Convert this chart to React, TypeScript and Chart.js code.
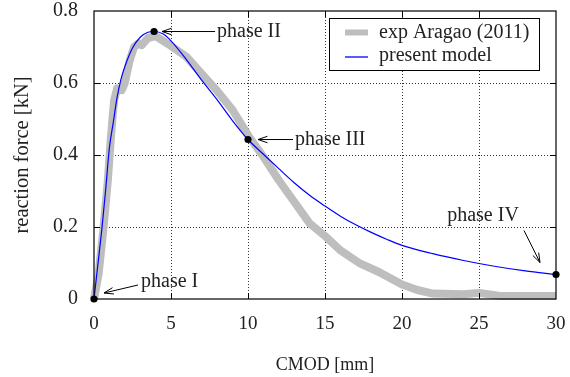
import React, { useEffect, useRef } from 'react';
import { Chart, registerables } from 'chart.js';

Chart.register(...registerables);

// Experimental curve (CMOD in mm, force in kN)
const expCmod = [0, 0.3, 0.6, 0.9, 1.1, 1.3, 1.5, 1.8, 2.0, 2.3, 2.6, 2.9, 3.1, 3.5, 4, 5, 6, 7, 8, 9, 10, 11, 12, 13, 14, 15, 16, 17.3, 18.5, 20, 21, 22, 24, 25, 26.5, 30];
const expForce = [0, 0.07, 0.19, 0.33, 0.45, 0.55, 0.585, 0.58, 0.6, 0.66, 0.7, 0.71, 0.705, 0.725, 0.73, 0.703, 0.673, 0.625, 0.578, 0.525, 0.455, 0.395, 0.33, 0.27, 0.21, 0.175, 0.135, 0.098, 0.075, 0.04, 0.025, 0.015, 0.013, 0.017, 0.008, 0.008];

// Model curve
const modelCmod = [0, 0.25, 0.5, 0.75, 1, 1.25, 1.5, 1.75, 2, 2.5, 3, 3.5, 3.9, 4.5, 5, 6, 7, 8, 9, 10, 11, 12, 13, 14, 15, 16, 17, 18, 19, 20, 22, 24, 26, 28, 30];
const modelForce = [0, 0.095, 0.19, 0.3, 0.42, 0.49, 0.56, 0.61, 0.645, 0.697, 0.727, 0.741, 0.743, 0.736, 0.717, 0.665, 0.607, 0.553, 0.495, 0.443, 0.402, 0.362, 0.323, 0.288, 0.258, 0.23, 0.206, 0.185, 0.166, 0.149, 0.126, 0.107, 0.091, 0.078, 0.068];

// Marked phases on the model curve
const phaseNames = ['phase I', 'phase II', 'phase III', 'phase IV'];
const phaseCmod = [0, 3.9, 10, 30];
const phaseForce = [0, 0.743, 0.443, 0.068];

const xTicks = [0, 5, 10, 15, 20, 25, 30];
const yTicks = [0, 0.2, 0.4, 0.6, 0.8];
const seriesLabels = ['exp Aragao (2011)', 'present model'];

const FONT = '"Liberation Serif", "Times New Roman", Times, serif';
const TEXT = '#222';
const GRAY = '#bebebe';
const BLUE = '#0000ff';

// Arrow placement for each phase label, in pixels relative to its point
const phaseArrows = [
  { tip: [10, -6], tail: [44, -14], text: [47, -17], align: 'left' },
  { tip: [8, 0], tail: [61, 0], text: [63, 0], align: 'left' },
  { tip: [10, 0], tail: [45, 0], text: [47, 0], align: 'left' },
  { tip: [-16, -12], tail: [-32, -44], text: [-73, -59], align: 'center' },
];

function drawArrow(ctx: CanvasRenderingContext2D, x0: number, y0: number, x1: number, y1: number) {
  const ang = Math.atan2(y1 - y0, x1 - x0);
  const len = 10;
  const spread = 0.33;
  ctx.beginPath();
  ctx.moveTo(x0, y0);
  ctx.lineTo(x1, y1);
  ctx.moveTo(x1 - len * Math.cos(ang - spread), y1 - len * Math.sin(ang - spread));
  ctx.lineTo(x1, y1);
  ctx.lineTo(x1 - len * Math.cos(ang + spread), y1 - len * Math.sin(ang + spread));
  ctx.stroke();
}

const noScalePadding = (s: any) => {
  s.paddingTop = 0;
  s.paddingBottom = 0;
  s.paddingLeft = 0;
  s.paddingRight = 0;
};

const decorPlugin = {
  id: 'decor',
  beforeDatasetsDraw(chart: any) {
    const { ctx, chartArea: a, scales } = chart;
    const x = scales.x;
    const y = scales.y;
    ctx.save();
    ctx.strokeStyle = '#333';
    ctx.lineWidth = 1;
    ctx.setLineDash([1, 2]);
    xTicks.slice(1, -1).forEach((v) => {
      const px = Math.round(x.getPixelForValue(v)) + 0.5;
      ctx.beginPath();
      ctx.moveTo(px, a.top);
      ctx.lineTo(px, a.bottom);
      ctx.stroke();
    });
    yTicks.slice(1, -1).forEach((v) => {
      const py = Math.round(y.getPixelForValue(v)) + 0.5;
      ctx.beginPath();
      ctx.moveTo(a.left, py);
      ctx.lineTo(a.right, py);
      ctx.stroke();
    });
    ctx.restore();
  },
  afterDatasetsDraw(chart: any) {
    const { ctx, chartArea: a, scales } = chart;
    const x = scales.x;
    const y = scales.y;
    const tl = 6;
    ctx.save();
    ctx.strokeStyle = '#000';
    ctx.lineWidth = 1.2;
    ctx.strokeRect(a.left, a.top, a.right - a.left, a.bottom - a.top);
    ctx.lineWidth = 1;
    ctx.beginPath();
    xTicks.slice(1, -1).forEach((v) => {
      const px = Math.round(x.getPixelForValue(v)) + 0.5;
      ctx.moveTo(px, a.bottom);
      ctx.lineTo(px, a.bottom - tl);
      ctx.moveTo(px, a.top);
      ctx.lineTo(px, a.top + tl);
    });
    yTicks.slice(1, -1).forEach((v) => {
      const py = Math.round(y.getPixelForValue(v)) + 0.5;
      ctx.moveTo(a.left, py);
      ctx.lineTo(a.left + tl, py);
      ctx.moveTo(a.right, py);
      ctx.lineTo(a.right - tl, py);
    });
    ctx.stroke();
    ctx.restore();
  },
  afterDraw(chart: any) {
    const { ctx, chartArea: a, scales } = chart;
    const x = scales.x;
    const y = scales.y;
    ctx.save();

    // phase labels with arrows
    ctx.strokeStyle = '#000';
    ctx.lineWidth = 1;
    ctx.fillStyle = TEXT;
    ctx.font = `20px ${FONT}`;
    ctx.textBaseline = 'middle';
    phaseNames.forEach((name, i) => {
      const px = x.getPixelForValue(phaseCmod[i]);
      const py = y.getPixelForValue(phaseForce[i]);
      const s = phaseArrows[i];
      drawArrow(ctx, px + s.tail[0], py + s.tail[1], px + s.tip[0], py + s.tip[1]);
      ctx.textAlign = s.align as CanvasTextAlign;
      ctx.fillText(name, px + s.text[0], py + s.text[1]);
    });

    // key box
    const bw = 210;
    const bh = 52;
    const bx = a.right - 17 - bw;
    const by = a.top + 7;
    ctx.fillStyle = '#fff';
    ctx.fillRect(bx, by, bw, bh);
    ctx.strokeStyle = '#000';
    ctx.lineWidth = 1;
    ctx.strokeRect(bx + 0.5, by + 0.5, bw, bh);
    const sx0 = bx + 16;
    const sx1 = bx + 39;
    const row1 = by + 14.5;
    const row2 = by + 39;
    ctx.fillStyle = GRAY;
    ctx.fillRect(sx0, row1 - 3, sx1 - sx0, 6);
    ctx.strokeStyle = BLUE;
    ctx.lineWidth = 1.3;
    ctx.beginPath();
    ctx.moveTo(sx0, row2);
    ctx.lineTo(sx1, row2);
    ctx.stroke();
    ctx.fillStyle = TEXT;
    ctx.textAlign = 'left';
    ctx.fillText(seriesLabels[0], bx + 50, row1);
    ctx.fillText(seriesLabels[1], bx + 50, row2 - 1);
    ctx.restore();
  },
};

export default function App() {
  const ref = useRef<HTMLCanvasElement | null>(null);

  useEffect(() => {
    if (!ref.current) return;
    const toPts = (xs: number[], ys: number[]) => xs.map((v, i) => ({ x: v, y: ys[i] }));
    const chart = new Chart(ref.current, {
      type: 'scatter',
      data: {
        datasets: [
          {
            label: 'phases',
            data: toPts(phaseCmod, phaseForce),
            showLine: false,
            pointRadius: 3.6,
            pointBackgroundColor: '#000',
            pointBorderColor: '#000',
            pointBorderWidth: 0,
            order: 0,
            clip: false as any,
          },
          {
            label: seriesLabels[1],
            data: toPts(modelCmod, modelForce),
            showLine: true,
            borderColor: BLUE,
            borderWidth: 1.2,
            pointRadius: 0,
            tension: 0.4,
            cubicInterpolationMode: 'monotone',
            order: 1,
          },
          {
            label: seriesLabels[0],
            data: toPts(expCmod, expForce),
            showLine: true,
            borderColor: GRAY,
            borderWidth: 8,
            borderJoinStyle: 'round',
            pointRadius: 0,
            tension: 0,
            order: 2,
            clip: false as any,
          },
        ],
      },
      options: {
        animation: false,
        responsive: false,
        devicePixelRatio: 1,
        layout: { padding: { top: 11, right: 14, left: 0, bottom: 0 } },
        plugins: {
          legend: { display: false },
          tooltip: { enabled: false },
        },
        scales: {
          x: {
            type: 'linear',
            min: 0,
            max: 30,
            afterBuildTicks: (s: any) => {
              s.ticks = xTicks.map((v) => ({ value: v }));
            },
            afterFit: (s: any) => {
              s.height = 78;
              noScalePadding(s);
            },
            grid: { display: false, drawTicks: false },
            border: { display: false },
            ticks: { padding: 14, color: TEXT, font: { family: FONT, size: 19 } },
            title: {
              display: true,
              text: 'CMOD [mm]',
              color: TEXT,
              font: { family: FONT, size: 18 },
              padding: { top: 0, bottom: 1 },
            },
          },
          y: {
            type: 'linear',
            min: 0,
            max: 0.8,
            afterBuildTicks: (s: any) => {
              s.ticks = yTicks.map((v) => ({ value: v }));
            },
            afterFit: (s: any) => {
              s.width = 94;
              noScalePadding(s);
            },
            grid: { display: false, drawTicks: false },
            border: { display: false },
            ticks: { padding: 16, color: TEXT, font: { family: FONT, size: 20 } },
            title: {
              display: true,
              text: 'reaction force [kN]',
              color: TEXT,
              font: { family: FONT, size: 20.5 },
              padding: { top: 10, bottom: 0 },
            },
          },
        },
      },
      plugins: [decorPlugin],
    });
    return () => chart.destroy();
  }, []);

  return (
    <div style={{ position: 'absolute', left: 0, top: 0, width: 570, height: 377 }}>
      <canvas ref={ref} width={570} height={377} style={{ display: 'block' }} />
    </div>
  );
}
